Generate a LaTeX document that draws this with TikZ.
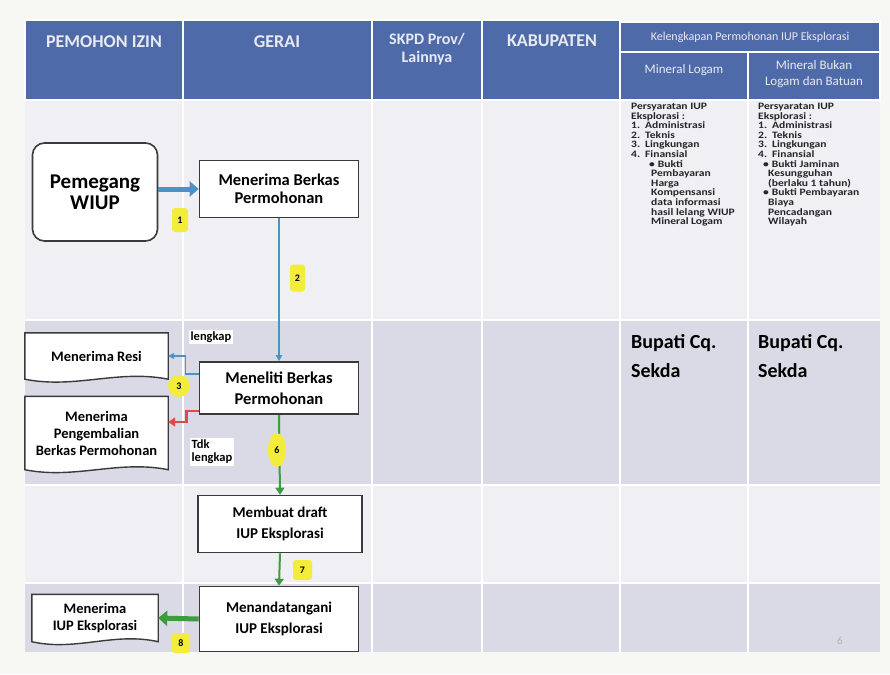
\documentclass[tikz,border=0pt]{standalone}
\usepackage{fontspec}
\setmainfont{Carlito}
\newfontfamily\widefont{Carlito}[FakeStretch=1.18]
\usepackage{tikz}
\usetikzlibrary{arrows.meta, positioning, calc, shapes.geometric}
\definecolor{pagebg}{HTML}{F7F7F4}
\definecolor{headblue}{HTML}{4F6AA8}
\definecolor{headtext}{HTML}{E8EAF2}
\definecolor{rowlight}{HTML}{EFEFF4}
\definecolor{rowdark}{HTML}{D9DAE6}
\definecolor{flowblue}{HTML}{4A93C4}
\definecolor{flowred}{HTML}{E04A45}
\definecolor{flowgreen}{HTML}{3F9B3F}
\definecolor{tagyellow}{HTML}{F3EC3A}
\definecolor{boxline}{HTML}{3A3A3A}
\pgfdeclarelayer{bg}
\pgfdeclarelayer{background}
\pgfsetlayers{bg,background,main}
\tikzset{
  headcell/.style={fill=headblue, draw=white, line width=1.5pt},
  headlabel/.style={text=headtext, font=\fontsize{18}{19}\selectfont\bfseries, align=center},
  sublabel/.style={text=headtext, font=\fontsize{13}{16}\selectfont, align=center},
  process/.style={rectangle, draw=boxline, line width=1.6pt, fill=white, align=center,
    font=\fontsize{16}{20}\selectfont\bfseries, inner sep=0pt},
  docnode/.style={rectangle, align=center, font=\fontsize{14.5}{17}\selectfont\bfseries, inner sep=0pt},
  docline/.style={draw=boxline, fill=white, line width=1.4pt},
  tag/.style={fill=tagyellow, rounded corners=3pt, font=\fontsize{10}{10}\selectfont\bfseries, inner sep=0pt},
  taground/.style={tag, ellipse},
  note/.style={fill=white, font=\fontsize{12.5}{13}\selectfont\bfseries, align=left, inner sep=2pt},
  reqtext/.style={font=\widefont\fontsize{9.8}{9.6}\selectfont\bfseries, align=left, inner sep=0pt, text=black!85},
  bupati/.style={font=\fontsize{20}{29}\selectfont\bfseries, align=left, anchor=north west, inner sep=0pt},
  flowthick/.style={line width=5pt, -{Triangle[length=9pt,width=15pt]}},
  flowthin/.style={line width=1.5pt, -{Triangle[length=6pt,width=6pt]}},
  flowmid/.style={line width=2.5pt, -{Triangle[length=7pt,width=9pt]}}
}
\newcommand{\docoutline}[1]{%
  \begin{pgfonlayer}{background}
  \draw[docline] (#1.south west) -- (#1.north west) -- (#1.north east) -- (#1.south east)
    .. controls ($(#1.south east)!0.35!(#1.south west)+(0,-10)$) and ($(#1.south east)!0.65!(#1.south west)+(0,10)$) .. (#1.south west) -- cycle;
  \end{pgfonlayer}}

\begin{document}
\begin{tikzpicture}[x=1pt, y=-1pt]
    \useasboundingbox (0,0) rectangle (890,674);

    % Table body
    \begin{pgfonlayer}{bg}
    \fill[pagebg] (0,0) rectangle (890,674);
    \fill[rowlight] (25,100) rectangle (880,320);
    \fill[rowdark] (25,320) rectangle (880,485);
    \fill[rowlight] (25,485) rectangle (880,583);
    \fill[rowdark] (25,583) rectangle (880,652);
    \foreach \cx in {183,372,482,620,748}
        \draw[white, line width=2pt] (\cx,100) -- (\cx,652);
    \foreach \ry in {320,485,583}
        \draw[white, line width=2pt] (25,\ry) -- (880,\ry);
    \end{pgfonlayer}

    % Header
    \draw[headcell] (25,20) rectangle (183,100);
    \draw[headcell] (183,20) rectangle (372,100);
    \draw[headcell] (372,20) rectangle (482,100);
    \draw[headcell] (482,20) rectangle (620,100);
    \draw[headcell] (620,22) rectangle (880,52);
    \draw[headcell] (620,52) rectangle (748,100);
    \draw[headcell] (748,52) rectangle (880,100);
    \node[headlabel] (hpemohon) at (104,42) {PEMOHON IZIN};
    \node[headlabel] (hgerai) at (277,42) {GERAI};
    \node[headlabel, font=\fontsize{16}{18}\selectfont\bfseries] (hskpd) at (427,49) {SKPD Prov/\\Lainnya};
    \node[headlabel] (hkab) at (552,41) {KABUPATEN};
    \node[sublabel, font=\fontsize{12}{14}\selectfont] (hkeleng) at (750,37) {Kelengkapan Permohonan IUP Eksplorasi};
    \node[sublabel] (hlogam) at (684,70) {Mineral Logam};
    \node[sublabel] (hbukan) at (814,74) {Mineral Bukan\\Logam dan Batuan};

    % Requirements
    \node[reqtext, anchor=north west] (syaratlogam) at (631,103) {Persyaratan IUP\\Eksplorasi :\\1.\hspace{5pt}Administrasi\\2.\hspace{5pt}Teknis\\3.\hspace{5pt}Lingkungan\\4.\hspace{5pt}Finansial\\\hspace*{18pt}\textbullet\hspace{3pt}Bukti\\\hspace*{20pt}Pembayaran\\\hspace*{20pt}Harga\\\hspace*{20pt}Kompensansi\\\hspace*{20pt}data informasi\\\hspace*{20pt}hasil lelang WIUP\\\hspace*{20pt}Mineral Logam};
    \node[reqtext, anchor=north west] (syaratbukan) at (758,103) {Persyaratan IUP\\Eksplorasi :\\1.\hspace{5pt}Administrasi\\2.\hspace{5pt}Teknis\\3.\hspace{5pt}Lingkungan\\4.\hspace{5pt}Finansial\\\hspace*{5pt}\textbullet\hspace{3pt}Bukti Jaminan\\\hspace*{10pt}Kesungguhan\\\hspace*{10pt}(berlaku 1 tahun)\\\hspace*{5pt}\textbullet\hspace{3pt}Bukti Pembayaran\\\hspace*{10pt}Biaya\\\hspace*{10pt}Pencadangan\\\hspace*{10pt}Wilayah};
    \node[bupati] (bupatilogam) at (631,334) {Bupati Cq.\\Sekda};
    \node[bupati] (bupatibukan) at (758,334) {Bupati Cq.\\Sekda};

    % Flow boxes
    \node[process, rounded corners=12pt, minimum width=125pt, minimum height=98pt,
          font=\fontsize{21}{21}\selectfont\bfseries] (pemegang) at (95,192) {Pemegang\\WIUP};
    \node[process, minimum width=159pt, minimum height=57pt, font=\fontsize{16.5}{18}\selectfont\bfseries] (terima) at (279,189) {Menerima Berkas\\Permohonan};
    \node[process, minimum width=159pt, minimum height=52pt, font=\fontsize{16.5}{21}\selectfont\bfseries] (teliti) at (279,388) {Meneliti Berkas\\Permohonan};
    \node[process, minimum width=164pt, minimum height=57pt, font=\fontsize{15}{21}\selectfont\bfseries] (draft) at (280,524) {Membuat draft\\IUP Eksplorasi};
    \node[process, minimum width=159pt, minimum height=65pt, font=\fontsize{15}{21}\selectfont\bfseries] (tanda) at (279,619) {Menandatangani\\IUP Eksplorasi};
    \node[docnode, minimum width=143pt, minimum height=46pt] (resi) at (96.5,356) {Menerima Resi};
    \docoutline{resi}
    \node[docnode, minimum width=143pt, minimum height=73pt] (kembali) at (96.5,433) {Menerima\\Pengembalian\\Berkas Permohonan};
    \docoutline{kembali}
    \node[docnode, minimum width=126pt, minimum height=47pt] (terimaiup) at (95,618) {Menerima\\IUP Eksplorasi};
    \docoutline{terimaiup}

    % Connectors
    \draw[flowthick, flowblue] (pemegang.east |- terima.west) -- (terima.west);
    \draw[flowthin, flowblue] (terima.south) -- (teliti.north);
    \draw[flowthin, flowblue] ($(teliti.north west)+(0,13)$) -- ++(-13,0) |- (resi.east);
    \draw[flowmid, flowred] ($(teliti.south west)+(0,-4)$) -- ++(-12,0) |- ($(kembali.east)+(0,-11)$);
    \draw[flowmid, flowgreen, line width=2pt] (teliti.south) -- (draft.north);
    \draw[flowmid, flowgreen, line width=2pt] (draft.south) -- (tanda.north);
    \draw[flowthick, flowgreen] (tanda.west) -- (terimaiup.east);

    % Branch labels
    \node[note] (lengkap) at (211,337) {lengkap};
    \node[note] (tdklengkap) at (212,452) {Tdk\\lengkap};

    % Step numbers
    \node[tag, minimum width=16pt, minimum height=24pt] (n1) at (180,220) {1};
    \node[tag, minimum width=15pt, minimum height=27pt] (n2) at (297.5,278) {2};
    \node[taground, minimum width=22pt, minimum height=22pt] (n3) at (179,386) {3};
    \node[taground, minimum width=18pt, minimum height=34pt] (n6) at (277,450) {6};
    \node[tag, minimum width=19pt, minimum height=20pt] (n7) at (302.5,570) {7};
    \node[tag, minimum width=18pt, minimum height=20pt] (n8) at (181,643) {8};

    % Page number
    \node[text=gray!60, font=\fontsize{11}{11}\selectfont] (page) at (840,641) {6};
\end{tikzpicture}
\end{document}
